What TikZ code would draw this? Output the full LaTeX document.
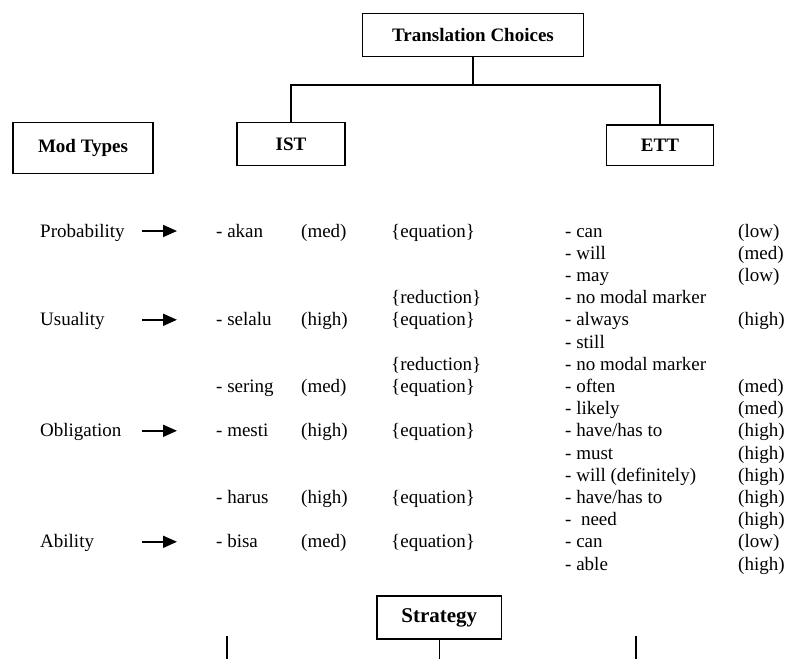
\documentclass[tikz,border=0pt]{standalone}
\usepackage{fontspec}
\setmainfont{Liberation Serif}
\usetikzlibrary{arrows.meta}
\tikzset{
 txt/.style={anchor=base west, inner sep=0pt, font=\fontsize{19pt}{22pt}\selectfont},
 boxnode/.style={draw, line width=1.3pt, inner sep=0pt, align=center, font=\fontsize{19pt}{22pt}\selectfont\bfseries},
 link/.style={line width=1.2pt},
 modarrow/.style={line width=1.7pt, -{Triangle[length=14pt,width=12pt]}},
}
\newcommand{\yb}[1]{237+22.2*#1}
\newcommand{\yc}[1]{231+22.2*#1}
\begin{document}
\begin{tikzpicture}[x=1pt,y=-1pt]
\useasboundingbox (0,0) rectangle (787,659);
% boxes
\node[boxnode, minimum width=220.6pt, minimum height=43.4pt] (tc) at (473,35) {Translation Choices};
\node[boxnode, minimum width=108pt, minimum height=43.4pt] (ist) at (291,144) {IST};
\node[boxnode, minimum width=107.3pt, minimum height=40.7pt] (ett) at (660,145.3) {ETT};
\node[boxnode, minimum width=140pt, minimum height=51pt] (mod) at (83,148) {Mod Types};
\node[boxnode, minimum width=124.7pt, minimum height=43pt, font=\fontsize{21pt}{24pt}\selectfont\bfseries] (strat) at (439.3,617.5) {Strategy};
% tree connectors
\coordinate (j) at (473,85);
\draw[link] (tc.south) -- (j);
\draw[link] (ist.north) |- (j) -| (ett.north);
\coordinate (s1) at (227,636); \coordinate (s1b) at (227,659);
\coordinate (s2) at (439.3,659);
\coordinate (s3) at (636,636); \coordinate (s3b) at (636,659);
\draw[link] (s1) -- (s1b);
\draw[link] (strat.south) -- (s2);
\draw[link] (s3) -- (s3b);
% mod types
\node[txt] (m0) at (40,{\yb{0}}) {Probability};
\node[txt] (m4) at (40,{\yb{4}}) {Usuality};
\node[txt] (m9) at (40,{\yb{9}}) {Obligation};
\node[txt] (m14) at (40,{\yb{14}}) {Ability};
\foreach \k in {0,4,9,14}{
  \coordinate (a\k) at (142,{\yc{\k}});
  \coordinate (b\k) at (177,{\yc{\k}});
  \draw[modarrow] (a\k) -- (b\k);
}
% IST words
\node[txt] (w0) at (216,{\yb{0}}) {- akan};
\node[txt] (w4) at (216,{\yb{4}}) {- selalu};
\node[txt] (w7) at (216,{\yb{7}}) {- sering};
\node[txt] (w9) at (216,{\yb{9}}) {- mesti};
\node[txt] (w12) at (216,{\yb{12}}) {- harus};
\node[txt] (w14) at (216,{\yb{14}}) {- bisa};
\node[txt] (v0) at (301,{\yb{0}}) {(med)};
\node[txt] (v4) at (301,{\yb{4}}) {(high)};
\node[txt] (v7) at (301,{\yb{7}}) {(med)};
\node[txt] (v9) at (301,{\yb{9}}) {(high)};
\node[txt] (v12) at (301,{\yb{12}}) {(high)};
\node[txt] (v14) at (301,{\yb{14}}) {(med)};
% strategy labels
\node[txt] (e0) at (391,{\yb{0}}) {\{equation\}};
\node[txt] (e3) at (391,{\yb{3}}) {\{reduction\}};
\node[txt] (e4) at (391,{\yb{4}}) {\{equation\}};
\node[txt] (e6) at (391,{\yb{6}}) {\{reduction\}};
\node[txt] (e7) at (391,{\yb{7}}) {\{equation\}};
\node[txt] (e9) at (391,{\yb{9}}) {\{equation\}};
\node[txt] (e12) at (391,{\yb{12}}) {\{equation\}};
\node[txt] (e14) at (391,{\yb{14}}) {\{equation\}};
% ETT words
\node[txt] (r0) at (565,{\yb{0}}) {- can};
\node[txt] (r1) at (565,{\yb{1}}) {- will};
\node[txt] (r2) at (565,{\yb{2}}) {- may};
\node[txt] (r3) at (565,{\yb{3}}) {- no modal marker};
\node[txt] (r4) at (565,{\yb{4}}) {- always};
\node[txt] (r5) at (565,{\yb{5}}) {- still};
\node[txt] (r6) at (565,{\yb{6}}) {- no modal marker};
\node[txt] (r7) at (565,{\yb{7}}) {- often};
\node[txt] (r8) at (565,{\yb{8}}) {- likely};
\node[txt] (r9) at (565,{\yb{9}}) {- have/has to};
\node[txt] (r10) at (565,{\yb{10}}) {- must};
\node[txt] (r11) at (565,{\yb{11}}) {- will (definitely)};
\node[txt] (r12) at (565,{\yb{12}}) {- have/has to};
\node[txt] (r13) at (565,{\yb{13}}) {- \ need};
\node[txt] (r14) at (565,{\yb{14}}) {- can};
\node[txt] (r15) at (565,{\yb{15}}) {- able};
\node[txt] (q0) at (738,{\yb{0}}) {(low)};
\node[txt] (q1) at (738,{\yb{1}}) {(med)};
\node[txt] (q2) at (738,{\yb{2}}) {(low)};
\node[txt] (q4) at (738,{\yb{4}}) {(high)};
\node[txt] (q7) at (738,{\yb{7}}) {(med)};
\node[txt] (q8) at (738,{\yb{8}}) {(med)};
\node[txt] (q9) at (738,{\yb{9}}) {(high)};
\node[txt] (q10) at (738,{\yb{10}}) {(high)};
\node[txt] (q11) at (738,{\yb{11}}) {(high)};
\node[txt] (q12) at (738,{\yb{12}}) {(high)};
\node[txt] (q13) at (738,{\yb{13}}) {(high)};
\node[txt] (q14) at (738,{\yb{14}}) {(low)};
\node[txt] (q15) at (738,{\yb{15}}) {(high)};
\end{tikzpicture}
\end{document}
